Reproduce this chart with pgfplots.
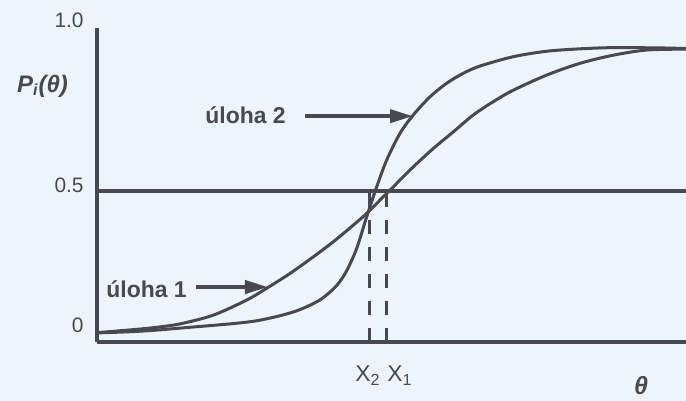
\documentclass[border=0pt]{standalone}
\usepackage{fontspec}
\setmainfont{Liberation Sans}
\usepackage{pgfplots}
\usepackage{pgfplotstable}
\pgfplotsset{compat=1.18}
\usetikzlibrary{arrows.meta}

\definecolor{paper}{RGB}{236,245,250}
\definecolor{ink}{RGB}{72,72,80}

% item characteristic curve, item 1 (flatter)
\pgfplotstableread{
theta p
0.000 0.031
0.560 0.040
0.985 0.048
1.409 0.060
1.975 0.089
2.542 0.139
2.881 0.178
3.277 0.227
3.672 0.282
4.012 0.332
4.351 0.387
4.579 0.426
4.805 0.470
5.031 0.514
5.370 0.580
5.710 0.641
6.049 0.696
6.389 0.752
6.728 0.796
7.068 0.834
7.635 0.884
8.200 0.923
8.766 0.950
9.333 0.967
10.000 0.970
}\itemone

% item characteristic curve, item 2 (steeper)
\pgfplotstableread{
theta p
0.000 0.030
0.560 0.034
0.985 0.039
1.409 0.046
2.258 0.060
2.700 0.070
3.107 0.087
3.400 0.104
3.650 0.125
3.842 0.147
4.070 0.187
4.239 0.236
4.409 0.310
4.579 0.415
4.749 0.514
4.919 0.603
5.144 0.691
5.370 0.752
5.654 0.812
5.937 0.857
6.219 0.890
6.503 0.914
7.068 0.945
7.635 0.963
8.200 0.971
8.766 0.975
9.559 0.974
10.000 0.972
}\itemtwo

\begin{document}
\begin{tikzpicture}
\path[use as bounding box, fill=paper] (-48.5bp,-29.5bp) rectangle (294.5bp,171bp);
\begin{axis}[
  scale only axis,
  width=294.5bp, height=157bp,
  xmin=0, xmax=10, ymin=0, ymax=1.04,
  axis lines=left,
  axis line style={-, line width=2bp, color=ink},
  xtick=\empty, ytick=\empty,
  clip=false,
]
\addplot[ink, line width=1.5bp, smooth, line cap=round] table[x=theta, y=p] {\itemone};
\addplot[ink, line width=1.5bp, smooth, line cap=round] table[x=theta, y=p] {\itemtwo};
\addplot[ink, line width=2bp] coordinates {(0,0.5) (10,0.5)};
\addplot[ink, line width=1.6bp, dash pattern=on 7bp off 6.5bp] coordinates {(4.627,0) (4.627,0.5)};
\addplot[ink, line width=1.6bp, dash pattern=on 7bp off 6.5bp] coordinates {(4.915,0) (4.915,0.5)};

% pointers to the two curves
\draw[ink, line width=2bp, -{Triangle[length=11.5bp,width=6.5bp]}] (axis cs:1.681,0.182) -- (axis cs:2.903,0.182);
\draw[ink, line width=2bp, -{Triangle[length=11.5bp,width=6.5bp]}] (axis cs:3.531,0.748) -- (axis cs:5.365,0.748);

\node[ink, anchor=base west, inner sep=0, font=\fontsize{11.5}{13}\selectfont\bfseries] at (axis cs:0.153,0.149) {úloha 1};
\node[ink, anchor=base west, inner sep=0, font=\fontsize{11.5}{13}\selectfont\bfseries] at (axis cs:1.834,0.725) {úloha 2};

% vertical scale
\node[ink, anchor=east, inner sep=0, font=\fontsize{10.5}{12}\selectfont] at (axis cs:-0.221,1.065) {1.0};
\node[ink, anchor=east, inner sep=0, font=\fontsize{10.5}{12}\selectfont] at (axis cs:-0.221,0.518) {0.5};
\node[ink, anchor=east, inner sep=0, font=\fontsize{10.5}{12}\selectfont] at (axis cs:-0.221,0.056) {0};
\node[ink, inner sep=0, font=\fontsize{12}{14}\selectfont\bfseries\itshape] at (axis cs:-0.925,0.848) {P\textsubscript{i}(θ)};

% difficulty markers and ability axis
\node[ink, anchor=base west, inner sep=0, font=\fontsize{11.5}{13}\selectfont] at (axis cs:4.380,-0.132) {X\textsubscript{2}};
\node[ink, anchor=base west, inner sep=0, font=\fontsize{11.5}{13}\selectfont] at (axis cs:4.924,-0.132) {X\textsubscript{1}};
\node[ink, inner sep=0, font=\fontsize{12.5}{14}\selectfont\bfseries\itshape] at (axis cs:9.236,-0.146) {θ};
\end{axis}
\end{tikzpicture}
\end{document}
